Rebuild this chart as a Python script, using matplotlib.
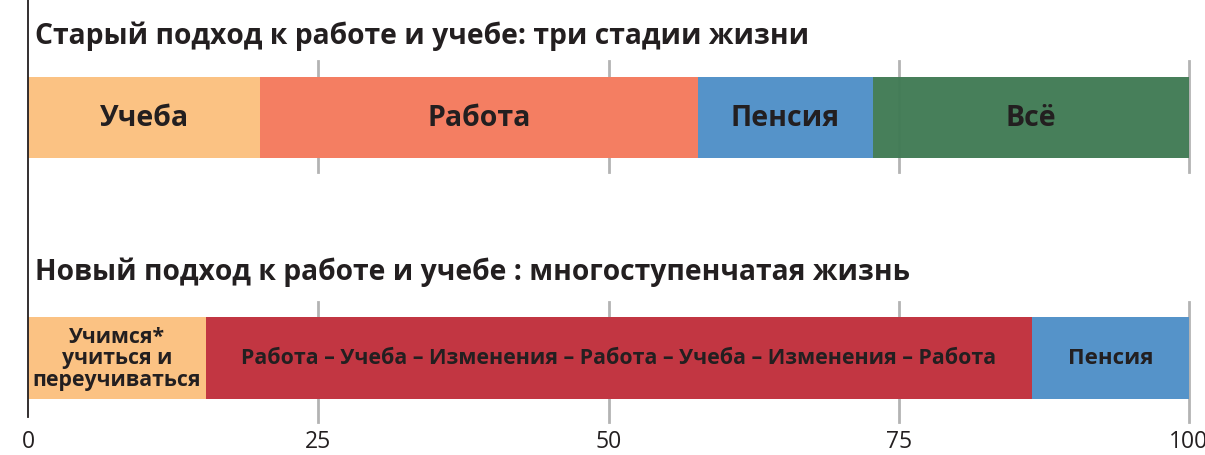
import matplotlib
matplotlib.use("Agg")
import matplotlib.pyplot as plt

plt.rcParams['font.family'] = ['Open Sans', 'DejaVu Sans']

# old model: three stages of life
old_title = "Старый подход к работе и учебе: три стадии жизни"
old_stages = ["Учеба", "Работа", "Пенсия", "Всё"]
old_values = [20.0, 37.7, 15.1, 27.2]
old_colors = ["#fbc283", "#f47e62", "#5593c9", "#417b55"]

# new model: multi-stage life
new_title = "Новый подход к работе и учебе : многоступенчатая жизнь"
new_stages = ["Учимся*\nучиться и\nпереучиваться",
              "Работа – Учеба – Изменения – Работа – Учеба – Изменения – Работа",
              "Пенсия"]
new_values = [15.3, 71.2, 13.5]
new_colors = ["#fbc283", "#c23642", "#5593c9"]

ticks = [0, 25, 50, 75, 100]

W, H = 1205, 456
fig = plt.figure(figsize=(W / 100, H / 100), dpi=100)
# axes in pixel-like y units so rows are easy to place
ax = fig.add_axes([28 / W, (H - 418) / H, 1161 / W, 418 / H])
ax.set_xlim(0, 100)
ax.set_ylim(418, 0)

text_col = "#231f20"
grid_col = "#b3b3b3"

rows = [
    dict(title=old_title, stages=old_stages, values=old_values, colors=old_colors,
         y=118.5, h=81, ty=36, grid=(62, 173), fs=[20.5, 20.5, 20.5, 20.5]),
    dict(title=new_title, stages=new_stages, values=new_values, colors=new_colors,
         y=359, h=82, ty=272, grid=(303, 423), fs=[15.3, 15.4, 16]),
]

for r in rows:
    # gridlines only around the bar
    for t in ticks[1:]:
        ax.plot([t, t], r["grid"], color=grid_col, lw=2, zorder=1, clip_on=False)
    left = 0
    for name, val, col, fs in zip(r["stages"], r["values"], r["colors"], r["fs"]):
        alpha = 0.97 if col == "#417b55" else 1
        ax.barh(r["y"], val, left=left, height=r["h"], color=col, alpha=alpha, zorder=2)
        ax.text(left + val / 2, r["y"], name, ha="center", va="center",
                fontsize=fs, fontweight="bold", color=text_col, zorder=3,
                linespacing=1.05)
        left += val
    ax.text(0.6, r["ty"], r["title"], ha="left", va="center", fontsize=20.3,
            fontweight="bold", color=text_col)

for s in ["top", "right", "bottom"]:
    ax.spines[s].set_visible(False)
ax.spines["left"].set_color("#231f20")
ax.spines["left"].set_linewidth(1.3)
ax.set_yticks([])
ax.set_xticks(ticks)
ax.set_xticklabels([str(t) for t in ticks])
ax.tick_params(axis="x", length=0, pad=9, labelsize=16.5, labelcolor=text_col)

fig.savefig("out.png", dpi=100)
